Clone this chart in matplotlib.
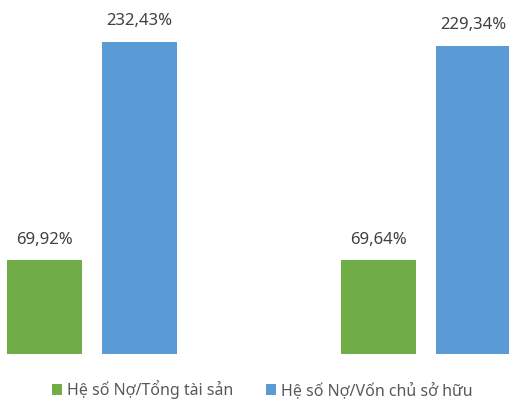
import matplotlib
matplotlib.use('Agg')
import matplotlib.pyplot as plt
import numpy as np

plt.rcParams['font.family'] = ['Noto Sans', 'DejaVu Sans']

# data
groups = ['2017', '2018']
series = ['Hệ số Nợ/Tổng tài sản', 'Hệ số Nợ/Vốn chủ sở hữu']
debt_assets = [69.92, 69.64]
debt_equity = [232.43, 229.34]
colors = ['#70AD47', '#5B9BD5']

fig = plt.figure(figsize=(5.09, 4.0), dpi=100)
ax = fig.add_axes([0, 46 / 400, 1, 354 / 400])

x = np.arange(len(groups))
w = 0.2246
off = 0.1422
b1 = ax.bar(x - off, debt_assets, w, color=colors[0], label=series[0])
b2 = ax.bar(x + off, debt_equity, w, color=colors[1], label=series[1])

for bars, vals in ((b1, debt_assets), (b2, debt_equity)):
    for b, v in zip(bars, vals):
        ax.annotate('{:.2f}%'.format(v).replace('.', ','),
                    (b.get_x() + b.get_width() / 2, b.get_height()),
                    xytext=(0, 9), textcoords='offset points',
                    ha='center', va='bottom', fontsize=12, color='#404040')

ax.set_xlim(-92 / 334, 417 / 334)
ax.set_ylim(0, 263.4)
ax.axis('off')

fig.legend(handles=[b1, b2], labels=series, loc='lower center',
           bbox_to_anchor=(0.5157, -0.034), ncol=2, frameon=False,
           fontsize=11.5, handlelength=0.63, handleheight=0.63, handletextpad=0.3,
           columnspacing=2.05, labelcolor='#595959')

plt.savefig('out.png', dpi=100)
